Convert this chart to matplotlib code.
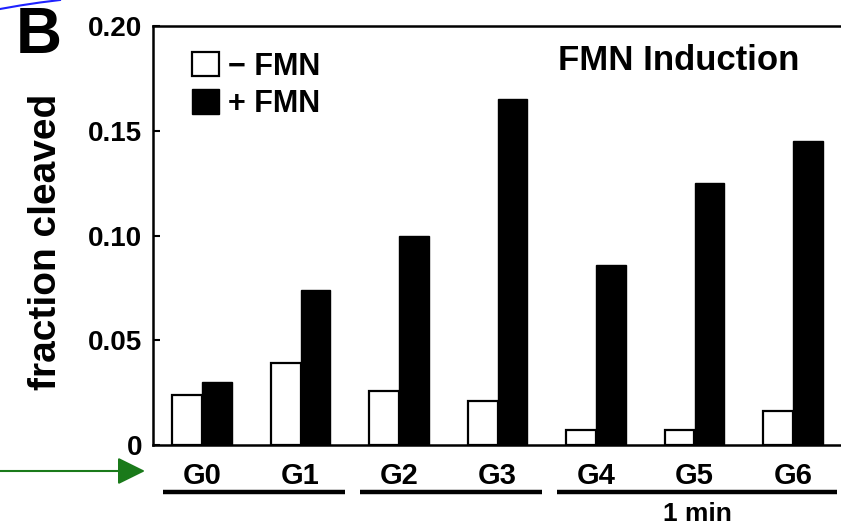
import matplotlib
matplotlib.use("Agg")
import matplotlib.pyplot as plt
import matplotlib.transforms as mtransforms
from matplotlib.lines import Line2D
from matplotlib.patches import Rectangle
import numpy as np

# ---- data ----
groups = ["G0", "G1", "G2", "G3", "G4", "G5", "G6"]
minus_fmn = [0.024, 0.039, 0.026, 0.021, 0.007, 0.007, 0.016]
plus_fmn = [0.030, 0.074, 0.100, 0.165, 0.086, 0.125, 0.145]
yticks = [0, 0.05, 0.10, 0.15, 0.20]
ytick_labels = ["0", "0.05", "0.10", "0.15", "0.20"]
time_spans = [(0, 1), (2, 3), (4, 6)]
time_labels = ["", "", "1 min"]

W, H = 841, 528
plt.rcParams["font.family"] = ["Liberation Sans", "DejaVu Sans"]
plt.rcParams["font.weight"] = "bold"

fig = plt.figure(figsize=(W / 100, H / 100), dpi=100)


def fx(x):
    return x / W


def fy(y):
    return 1 - y / H


# axes frame (right side runs past the figure edge)
ax_left, ax_right, ax_top, ax_bot = 153, 880, 26, 445
ax = fig.add_axes([fx(ax_left), fy(ax_bot), fx(ax_right - ax_left), fy(ax_top) - fy(ax_bot)])

x = np.arange(len(groups))
bw = 0.30
ax.bar(x - bw / 2, minus_fmn, width=bw, color="white", edgecolor="black", linewidth=1.6)
ax.bar(x + bw / 2, plus_fmn, width=bw, color="black", edgecolor="black", linewidth=1.0)

group_step_px = 98.5
first_center_px = 202
ax.set_xlim(-(first_center_px - ax_left) / group_step_px,
            (ax_right - first_center_px) / group_step_px)
ax.set_ylim(0, 0.20)

ax.set_yticks(yticks)
ax.set_yticklabels(ytick_labels)
ax.tick_params(axis="y", direction="in", length=5, width=1.5, labelsize=20, pad=8)
ax.set_xticks(x)
ax.set_xticklabels(groups)
ax.tick_params(axis="x", length=0, labelsize=21, pad=12)

for side in ["left", "bottom", "top", "right"]:
    ax.spines[side].set_linewidth(1.8)

# axis label and panel letter
fig.text(fx(46), fy(242), "fraction cleaved", rotation=90, ha="center", va="center",
         fontsize=28, fontweight="bold")
fig.text(fx(39), fy(53), "B", ha="center", va="baseline", fontsize=46, fontweight="bold")

# inset title
fig.text(fx(679), fy(70), "FMN Induction", ha="center", va="baseline",
         fontsize=25, fontweight="bold")

# legend
fig.patches.append(Rectangle((fx(192), fy(76)), fx(27), fy(52) - fy(76),
                             transform=fig.transFigure, facecolor="white",
                             edgecolor="black", linewidth=1.6))
fig.patches.append(Rectangle((fx(192), fy(114)), fx(27), fy(89) - fy(114),
                             transform=fig.transFigure, facecolor="black",
                             edgecolor="black", linewidth=1.0))
fig.text(fx(228), fy(75), "\u2212 FMN", ha="left", va="baseline", fontsize=22, fontweight="bold")
fig.text(fx(228), fy(112), "+ FMN", ha="left", va="baseline", fontsize=22, fontweight="bold")

# time-group brackets under the category labels
blend = mtransforms.blended_transform_factory(ax.transData, fig.transFigure)
for (a, b), lab in zip(time_spans, time_labels):
    ax.plot([a - 0.40, b + 0.45], [fy(491.5), fy(491.5)], color="black", lw=3.2,
            transform=blend, clip_on=False, solid_capstyle="butt")
    if lab:
        ax.text((a + b) / 2 + 0.03, fy(521), lab, transform=blend, ha="center",
                va="baseline", fontsize=19, fontweight="bold")

# pointer arrow and corner stroke
ax.annotate("", xy=(fx(145), fy(471)), xytext=(fx(0), fy(471)),
            xycoords="figure fraction", textcoords="figure fraction",
            arrowprops=dict(arrowstyle="-|>,head_length=0.85,head_width=0.42",
                            color="#1a7a1a", lw=1.5, mutation_scale=20,
                            shrinkA=0, shrinkB=0))
fig.add_artist(Line2D([fx(0), fx(20), fx(40), fx(60)], [fy(9), fy(5.5), fy(2.5), fy(0)],
                      transform=fig.transFigure, color="#1e22ff", lw=1.5))

fig.savefig("out.png", dpi=100)
